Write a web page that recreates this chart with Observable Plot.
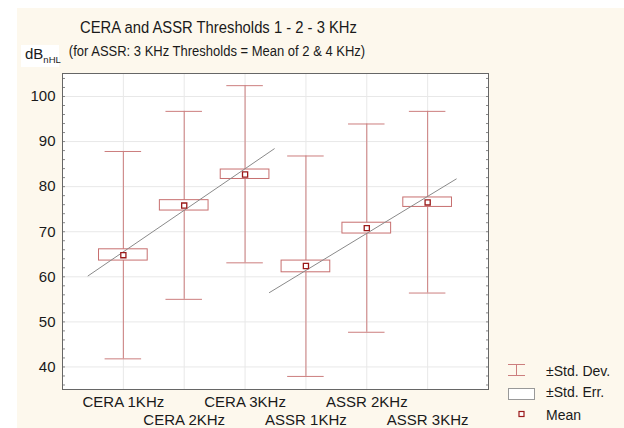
<!DOCTYPE html>
<html><head><meta charset="utf-8">
<script src="https://cdn.jsdelivr.net/npm/d3@7"></script>
<script src="https://cdn.jsdelivr.net/npm/@observablehq/plot@0.6"></script>
<style>
body{margin:0;background:#fff;font-family:"Liberation Sans",Arial,sans-serif;}
#wrap{position:relative;width:624px;height:428px;overflow:hidden;}
#bg{position:absolute;left:17px;top:8px;right:0;bottom:0;background:#fdf8ed;}
#chart{position:absolute;left:0;top:0;}
.t{position:absolute;white-space:nowrap;color:#1a1a1a;}
</style></head><body>
<div id="wrap">
<div id="bg"></div>
<div id="chart"></div>
<div class="t" style="left:0;width:437px;text-align:center;top:18px;font-size:14.8px;line-height:18px;transform:scaleY(1.13);transform-origin:50% 50%;">CERA and ASSR Thresholds 1 - 2 - 3 KHz</div>
<div class="t" style="left:0;width:434px;text-align:center;top:44px;font-size:13px;line-height:16px;transform:scaleY(1.08);">(for ASSR: 3 KHz Thresholds = Mean of 2 &amp; 4 KHz)</div>
<div class="t" style="left:21px;top:45px;width:38px;height:22px;background:#fff;"></div>
<div class="t" style="left:25px;top:45px;font-size:15px;line-height:17px;">dB<span style="font-size:9.5px;position:relative;top:4px;">nHL</span></div>
<svg class="t" style="left:500px;top:356px;" width="124" height="72">
  <line x1="8" x2="25" y1="8.5" y2="8.5" stroke="#cc7e7e"/>
  <line x1="8" x2="25" y1="19.5" y2="19.5" stroke="#cc7e7e"/>
  <line x1="16.5" x2="16.5" y1="8.5" y2="19.5" stroke="#cc7e7e"/>
  <rect x="8.5" y="32.5" width="26" height="11" fill="#fff" stroke="#999"/>
  <rect x="19" y="55.5" width="5" height="5" fill="#fff" stroke="#9b1a1a" stroke-width="1.2"/>
</svg>
<div class="t" style="left:546px;top:363px;font-size:14px;line-height:17px;">±Std. Dev.</div>
<div class="t" style="left:546px;top:384px;font-size:14px;line-height:17px;">±Std. Err.</div>
<div class="t" style="left:546px;top:407px;font-size:14px;line-height:17px;">Mean</div>
</div>
<script>
const categories = ["CERA 1KHz","CERA 2KHz","CERA 3KHz","ASSR 1KHz","ASSR 2KHz","ASSR 3KHz"];
const means  = [64.8, 75.8, 82.7, 62.4, 70.8, 76.5];
const seLow  = [63.6, 74.7, 81.7, 61.0, 69.6, 75.5];
const seHigh = [66.1, 77.0, 83.8, 63.6, 72.0, 77.6];
const sdLow  = [41.8, 55.0, 63.1, 37.9, 47.7, 56.4];
const sdHigh = [87.8, 96.7, 102.4, 86.8, 93.9, 96.7];
const ceraFitPos = [0.42, 3.48];
const ceraFitVal = [60.2, 88.4];
const assrFitPos = [3.40, 6.47];
const assrFitVal = [56.5, 81.7];
const yTicks = [40, 50, 60, 70, 80, 90, 100];

const rows = categories.map((c, i) => ({cat: c, pos: i + 1, mean: means[i], seLo: seLow[i], seHi: seHigh[i], sdLo: sdLow[i], sdHi: sdHigh[i]}));
const ceraFit = ceraFitPos.map((p, i) => ({pos: p, v: ceraFitVal[i]}));
const assrFit = assrFitPos.map((p, i) => ({pos: p, v: assrFitVal[i]}));
const positions = rows.map(d => d.pos);
const minor = d3.range(36, 106, 2);

const sdColor = "#cc7e7e", seColor = "#c76f6f", meanColor = "#9b1a1a", grid = "#e8e8e8";

const chart = Plot.plot({
  width: 624, height: 428,
  marginLeft: 62, marginRight: 136, marginTop: 73, marginBottom: 39,
  style: {background: "transparent", fontFamily: "'Liberation Sans', Arial, sans-serif", fontSize: "15px", color: "#1a1a1a"},
  x: {domain: [0, 7]},
  y: {domain: [35, 105.1]},
  marks: [
    Plot.frame({fill: "white"}),
    Plot.gridX(positions, {stroke: grid, strokeOpacity: 1}),
    Plot.gridY(yTicks, {stroke: grid, strokeOpacity: 1}),
    Plot.axisY(minor, {anchor: "left", tickSize: -3, tickFormat: () => "", stroke: "#888", label: null}),
    Plot.axisY(minor, {anchor: "right", tickSize: -3, tickFormat: () => "", stroke: "#888", label: null}),
    Plot.axisY(yTicks, {anchor: "left", tickSize: 0, tickPadding: 7, fontSize: 15, label: null}),
    Plot.axisX([1, 3, 5], {tickSize: 0, tickPadding: 7, fontSize: 15, tickFormat: i => categories[i - 1], label: null}),
    Plot.axisX([2, 4, 6], {tickSize: 0, tickPadding: 25, fontSize: 15, tickFormat: i => categories[i - 1], label: null}),
    Plot.ruleX(rows, {x: "pos", y1: "sdLo", y2: "sdHi", stroke: sdColor}),
    Plot.ruleY(rows, {y: "sdHi", x1: d => d.pos - 0.3, x2: d => d.pos + 0.3, stroke: sdColor}),
    Plot.ruleY(rows, {y: "sdLo", x1: d => d.pos - 0.3, x2: d => d.pos + 0.3, stroke: sdColor}),
    Plot.rect(rows, {x1: d => d.pos - 0.4, x2: d => d.pos + 0.4, y1: "seLo", y2: "seHi", fill: "white", stroke: seColor}),
    Plot.line(ceraFit, {x: "pos", y: "v", stroke: "#8a8a8a", strokeWidth: 1}),
    Plot.line(assrFit, {x: "pos", y: "v", stroke: "#8a8a8a", strokeWidth: 1}),
    Plot.dot(rows, {x: "pos", y: "mean", symbol: "square", r: 2.9, fill: "white", stroke: meanColor, strokeWidth: 1.3}),
    Plot.frame({stroke: "#666"})
  ]
});
document.getElementById("chart").append(chart);
</script>
</body></html>
